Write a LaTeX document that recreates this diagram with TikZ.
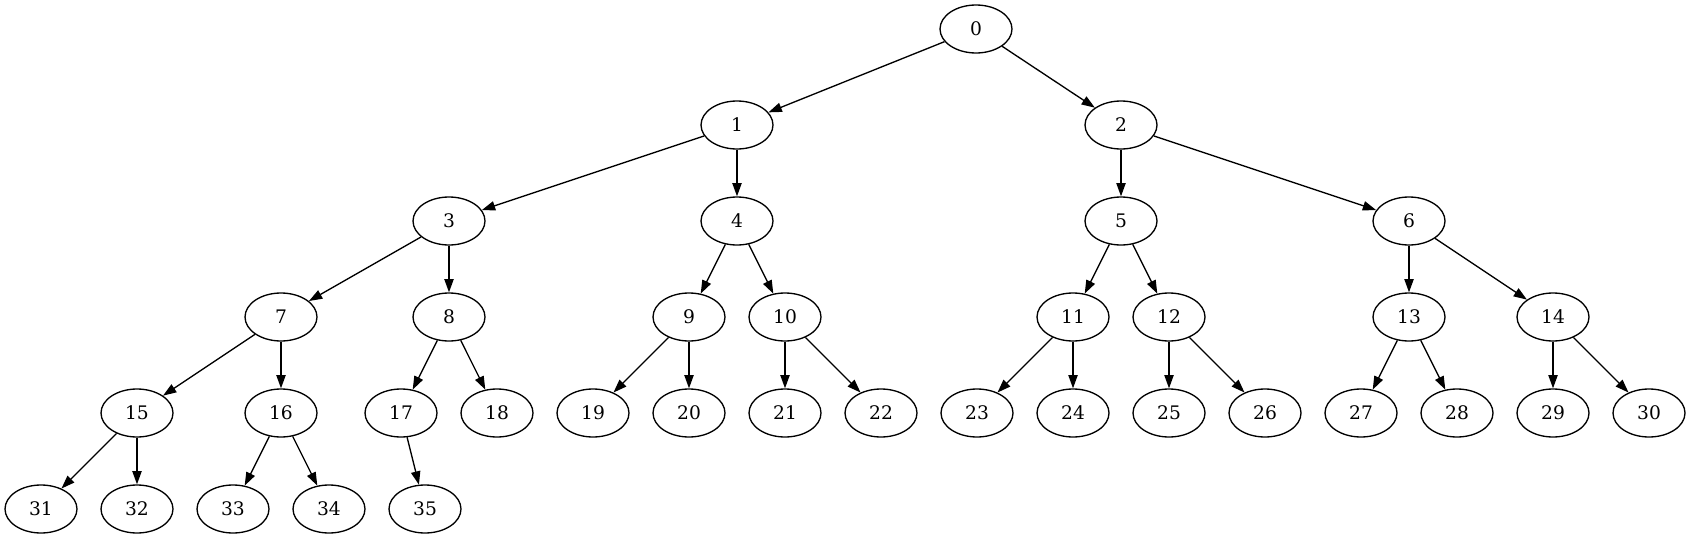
\documentclass[tikz,border=0pt]{standalone}
\usepackage{fontspec}
\setmainfont{DejaVu Serif}
\usetikzlibrary{shapes.geometric,arrows.meta}
\begin{document}
\begin{tikzpicture}[x=0.75pt, y=-0.75pt,
  vtx/.style={ellipse, draw, line width=1pt, inner sep=0pt, minimum width=54pt, minimum height=36pt, font=\fontsize{14pt}{16pt}\selectfont},
  arc/.style={line width=1pt, -{Triangle[length=10pt, width=7pt]}}]
\useasboundingbox (0,0) rectangle (1691,539);
\node[vtx] (nid0) at (976,29){0};
\node[vtx] (nid1) at (737,125){1};
\node[vtx] (nid3) at (449,221){3};
\node[vtx] (nid7) at (281,317){7};
\node[vtx] (nid15) at (137,413){15};
\node[vtx] (nid31) at (41,509){31};
\node[vtx] (nid32) at (137,509){32};
\draw[arc](nid15) -- (nid31);
\draw[arc](nid15) -- (nid32);
\node[vtx] (nid16) at (281,413){16};
\node[vtx] (nid33) at (233,509){33};
\node[vtx] (nid34) at (329,509){34};
\draw[arc](nid16) -- (nid33);
\draw[arc](nid16) -- (nid34);
\draw[arc](nid7) -- (nid15);
\draw[arc](nid7) -- (nid16);
\node[vtx] (nid8) at (449,317){8};
\node[vtx] (nid17) at (401,413){17};
\node[vtx] (nid35) at (425,509){35};
\draw[arc](nid17) -- (nid35);
\node[vtx] (nid18) at (497,413){18};
\draw[arc](nid8) -- (nid17);
\draw[arc](nid8) -- (nid18);
\draw[arc](nid3) -- (nid7);
\draw[arc](nid3) -- (nid8);
\node[vtx] (nid4) at (737,221){4};
\node[vtx] (nid9) at (689,317){9};
\node[vtx] (nid19) at (593,413){19};
\node[vtx] (nid20) at (689,413){20};
\draw[arc](nid9) -- (nid19);
\draw[arc](nid9) -- (nid20);
\node[vtx] (nid10) at (785,317){10};
\node[vtx] (nid21) at (785,413){21};
\node[vtx] (nid22) at (881,413){22};
\draw[arc](nid10) -- (nid21);
\draw[arc](nid10) -- (nid22);
\draw[arc](nid4) -- (nid9);
\draw[arc](nid4) -- (nid10);
\draw[arc](nid1) -- (nid3);
\draw[arc](nid1) -- (nid4);
\node[vtx] (nid2) at (1121,125){2};
\node[vtx] (nid5) at (1121,221){5};
\node[vtx] (nid11) at (1073,317){11};
\node[vtx] (nid23) at (977,413){23};
\node[vtx] (nid24) at (1073,413){24};
\draw[arc](nid11) -- (nid23);
\draw[arc](nid11) -- (nid24);
\node[vtx] (nid12) at (1169,317){12};
\node[vtx] (nid25) at (1169,413){25};
\node[vtx] (nid26) at (1265,413){26};
\draw[arc](nid12) -- (nid25);
\draw[arc](nid12) -- (nid26);
\draw[arc](nid5) -- (nid11);
\draw[arc](nid5) -- (nid12);
\node[vtx] (nid6) at (1409,221){6};
\node[vtx] (nid13) at (1409,317){13};
\node[vtx] (nid27) at (1361,413){27};
\node[vtx] (nid28) at (1457,413){28};
\draw[arc](nid13) -- (nid27);
\draw[arc](nid13) -- (nid28);
\node[vtx] (nid14) at (1553,317){14};
\node[vtx] (nid29) at (1553,413){29};
\node[vtx] (nid30) at (1649,413){30};
\draw[arc](nid14) -- (nid29);
\draw[arc](nid14) -- (nid30);
\draw[arc](nid6) -- (nid13);
\draw[arc](nid6) -- (nid14);
\draw[arc](nid2) -- (nid5);
\draw[arc](nid2) -- (nid6);
\draw[arc](nid0) -- (nid1);
\draw[arc](nid0) -- (nid2);
\end{tikzpicture}
\end{document}
